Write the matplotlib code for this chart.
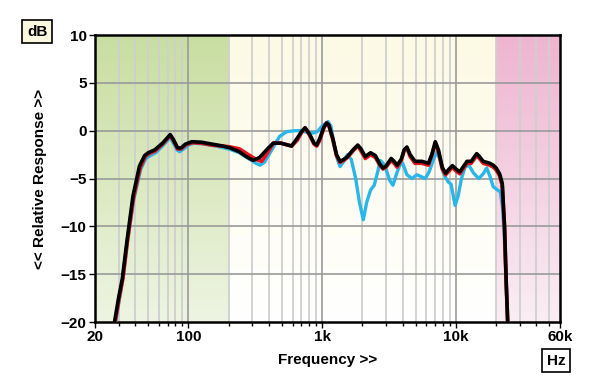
import numpy as np
import matplotlib.pyplot as plt
import matplotlib.ticker as mticker

plt.rcParams['font.family'] = ['Liberation Sans', 'DejaVu Sans']
plt.rcParams['font.weight'] = 'bold'

# black trace
freq_black = [28, 30, 32, 34.7, 38.5, 43, 47, 50, 56, 64, 70, 73, 77, 83, 88, 95, 106, 125, 150,
              180, 205, 240, 270, 305, 340, 390, 431, 490, 590, 650, 700, 745, 800, 870, 910, 960,
              1030, 1080, 1120, 1200, 1280, 1360, 1450, 1545, 1700, 1845, 1950, 2100, 2300, 2500,
              2700, 2850, 3000, 3280, 3450, 3630, 3900, 4100, 4300, 4550, 4940, 5560, 6230, 6600,
              7010, 7400, 7900, 8370, 8900, 9410, 10000, 10700, 11300, 12100, 13000, 14300, 15000,
              16000, 17900, 19000, 20000, 21200, 22200, 23100, 23800, 24400]
db_black = [-20, -17.5, -15.5, -11.5, -6.8, -3.7, -2.6, -2.3, -2.0, -1.3, -0.7, -0.4, -0.9, -1.8,
            -1.8, -1.4, -1.15, -1.2, -1.4, -1.6, -1.8, -2.2, -2.7, -3.1, -2.8, -1.9, -1.3, -1.3,
            -1.6, -0.8, -0.1, 0.3, -0.3, -1.3, -1.5, -0.8, 0.4, 0.8, 0.6, -0.8, -2.5, -3.2, -3.0,
            -2.7, -2.0, -1.5, -1.9, -2.7, -2.3, -2.6, -3.5, -3.9, -3.7, -2.9, -3.2, -3.6, -3.0,
            -2.0, -1.7, -2.5, -3.2, -3.2, -3.4, -2.5, -1.15, -2.0, -3.8, -4.45, -4.0, -3.65, -4.0,
            -4.3, -3.8, -3.2, -3.2, -2.4, -2.7, -3.2, -3.4, -3.6, -3.9, -4.5, -5.5, -10.0, -16.0,
            -20.0]

# red trace
freq_red = [28.3, 30.3, 32.3, 35, 38.8, 43.5, 47.5, 50.5, 56.5, 64, 70, 73, 77, 83, 88, 95, 106,
            125, 150, 180, 205, 240, 280, 320, 353, 390, 431, 490, 590, 650, 700, 745, 800, 870,
            910, 960, 1030, 1080, 1120, 1200, 1280, 1360, 1450, 1545, 1700, 1845, 1950, 2100, 2300,
            2500, 2700, 2850, 3000, 3280, 3450, 3630, 3900, 4100, 4300, 4550, 4940, 5560, 6230,
            6600, 7010, 7400, 7900, 8370, 8900, 9410, 10000, 10700, 11300, 12100, 13000, 14300,
            15000, 16000, 17900, 19000, 20000, 21200, 22200, 23100, 23800, 24400]
db_red = [-20, -17.5, -15.5, -11.5, -7.0, -3.9, -2.7, -2.4, -2.1, -1.4, -0.8, -0.5, -1.0, -1.9,
          -1.9, -1.5, -1.25, -1.3, -1.5, -1.6, -1.7, -1.9, -2.5, -3.0, -3.2, -2.3, -1.3, -1.3,
          -1.6, -1.0, -0.2, 0.3, -0.4, -1.4, -1.6, -1.0, 0.3, 0.8, 0.6, -0.9, -2.6, -3.3, -3.1,
          -2.8, -2.1, -1.6, -2.1, -2.9, -2.5, -2.8, -3.6, -4.0, -3.8, -3.1, -3.4, -3.8, -3.1,
          -2.1, -1.8, -2.7, -3.4, -3.4, -3.6, -2.6, -1.3, -2.2, -4.0, -4.6, -4.2, -3.8, -4.2,
          -4.5, -4.0, -3.4, -3.4, -2.6, -2.9, -3.4, -3.6, -3.8, -4.1, -4.7, -5.7, -10.3, -16.2,
          -20.0]

# blue trace
freq_blue = [28.5, 31, 33, 35, 39, 44, 48, 52, 57, 64, 70, 73, 77, 82, 86, 92, 100, 110, 130, 160,
             200, 240, 280, 320, 343, 370, 420, 480, 543, 620, 700, 780, 850, 920, 1000, 1106,
             1160, 1230, 1300, 1360, 1450, 1545, 1650, 1780, 1900, 2030, 2150, 2300, 2450, 2600,
             2720, 2850, 3000, 3200, 3380, 3600, 3800, 4000, 4300, 4700, 5100, 5500, 5900, 6300,
             6800, 7190, 7600, 8100, 8700, 9200, 9860, 10400, 11000, 11700, 12500, 13500, 14800,
             16000, 17000, 18000, 19000, 20500, 21500, 22300, 23000, 23800, 24300]
db_blue = [-20, -17, -14.5, -11.5, -7.2, -4.0, -2.9, -2.6, -2.3, -1.6, -1.0, -0.7, -1.3, -2.0,
           -2.2, -1.9, -1.5, -1.3, -1.4, -1.6, -1.9, -2.3, -2.9, -3.4, -3.6, -3.3, -2.0, -0.6,
           -0.1, 0.0, 0.0, -0.2, -0.25, -0.1, 0.5, 0.95, 0.5, -1.5, -3.0, -3.75, -3.2, -2.5,
           -3.0, -5.0, -7.5, -9.3, -7.5, -6.2, -5.7, -4.3, -3.1, -3.4, -4.0, -5.2, -5.7, -4.5,
           -3.6, -3.4, -4.6, -5.0, -4.6, -4.8, -5.0, -4.3, -3.0, -2.2, -3.0, -4.5, -5.3, -5.6,
           -7.8, -6.8, -5.0, -3.8, -3.6, -4.4, -5.0, -4.5, -3.9, -4.8, -5.85, -6.2, -6.4, -8.0,
           -11.0, -16.0, -20.0]

fmin, fmax = 20, 60000
band_lo, band_hi = 200, 20000

fig = plt.figure(figsize=(6, 3.89), dpi=100)
ax = fig.add_axes([0.1583, 0.172, 0.775, 0.738])
ax.set_xscale('log')
ax.set_xlim(fmin, fmax)
ax.set_ylim(-20, 10)


def axfrac(f):
    return (np.log10(f) - np.log10(fmin)) / (np.log10(fmax) - np.log10(fmin))


def vgrad(top, bottom, n=256):
    t = np.linspace(0, 1, n)[:, None]
    top = np.array(top) / 255.0
    bottom = np.array(bottom) / 255.0
    img = top * (1 - t) + bottom * t
    return img[:, None, :].repeat(2, axis=1)


# background bands
ax.imshow(vgrad((200, 222, 160), (238, 244, 226)), extent=[0, axfrac(band_lo), 0, 1],
          transform=ax.transAxes, aspect='auto', zorder=0)
ax.imshow(vgrad((252, 250, 228), (255, 255, 255)), extent=[axfrac(band_lo), axfrac(band_hi), 0, 1],
          transform=ax.transAxes, aspect='auto', zorder=0)
ax.imshow(vgrad((238, 180, 208), (250, 238, 244)), extent=[axfrac(band_hi), 1, 0, 1],
          transform=ax.transAxes, aspect='auto', zorder=0)

# grid
for dec in [10, 100, 1000, 10000]:
    for m in range(2, 10):
        f = m * dec
        if fmin < f < fmax:
            ax.axvline(f, color='#cfcfcf', lw=1.3, zorder=1)
for f in [100, 1000, 10000]:
    ax.axvline(f, color='#9a9a9a', lw=1.2, zorder=1)
for y in [-15, -10, -5, 0, 5]:
    ax.axhline(y, color='#9a9a9a', lw=1.2, zorder=1)

ax.plot(freq_blue, db_blue, color='#29b6e8', lw=2.4, zorder=3, solid_capstyle='round')
ax.plot(freq_red, db_red, color='#e8141c', lw=2.7, zorder=4, solid_capstyle='round')
ax.plot(freq_black, db_black, color='black', lw=2.6, zorder=5, solid_capstyle='round')

ax.xaxis.set_major_locator(mticker.FixedLocator([20, 100, 1000, 10000, 60000]))
ax.xaxis.set_major_formatter(mticker.FixedFormatter(['20', '100', '1k', '10k', '60k']))
minor = [m * d for d in [10, 100, 1000, 10000] for m in range(2, 10) if fmin < m * d < fmax]
ax.xaxis.set_minor_locator(mticker.FixedLocator(minor))
ax.xaxis.set_minor_formatter(mticker.NullFormatter())
ax.set_yticks([-20, -15, -10, -5, 0, 5, 10])
ax.tick_params(axis='both', which='major', direction='out', length=4, width=1,
               labelsize=11, pad=2)
ax.tick_params(axis='x', which='minor', direction='out', length=3, width=1)
for lab in ax.get_xticklabels() + ax.get_yticklabels():
    lab.set_fontweight('bold')

for s in ax.spines.values():
    s.set_linewidth(1.8)

ax.set_xlabel('Frequency >>', fontsize=11, fontweight='bold', labelpad=6)
ax.set_ylabel('<< Relative Response >>', fontsize=11, fontweight='bold', labelpad=10)

fig.text(0.062, 0.918, 'dB', fontsize=11, fontweight='bold', ha='center', va='center',
         bbox=dict(boxstyle='square,pad=0.3', fc='#fbf8e0', ec='black', lw=1.2))
fig.text(0.927, 0.073, 'Hz', fontsize=11, fontweight='bold', ha='center', va='center',
         bbox=dict(boxstyle='square,pad=0.3', fc='white', ec='black', lw=1.2))

fig.savefig('out.png', dpi=100)
